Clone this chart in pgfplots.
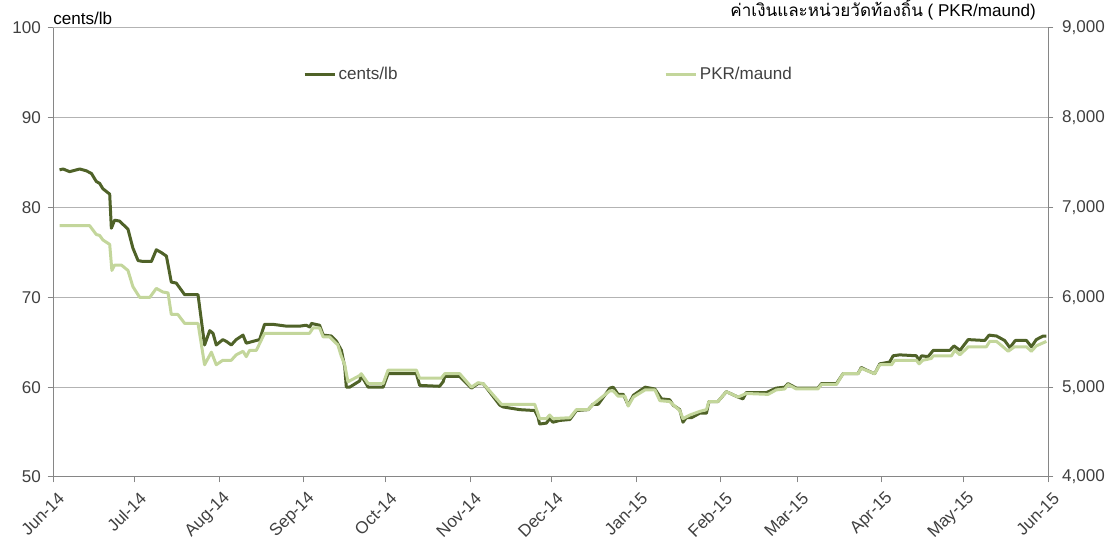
\documentclass[border=0pt]{standalone}
\usepackage{pgfplots}
\pgfplotsset{compat=1.18}
\usepackage{fontspec}
\setmainfont{Liberation Sans}
\newfontfamily\thaifont[Script=Thai]{Loma}
\definecolor{darkg}{HTML}{4F6228}
\definecolor{lightg}{HTML}{C3D69B}
\definecolor{axgray}{HTML}{868686}
\definecolor{gridgray}{HTML}{B3B3B3}
\definecolor{txt}{HTML}{404040}
\newcommand{\fs}{\fontsize{12.8}{15}\selectfont}
\begin{document}
\begin{tikzpicture}
\pgfplotsset{
  common/.style={
    scale only axis, width=746.25pt, height=336.75pt,
    xmin=0, xmax=365,
    xtick={0,30,61,92,122,153,183,214,245,273,304,334,365},
    tick align=outside, major tick length=4pt,
    tick label style={font=\fs, text=txt},
    /pgf/number format/assume math mode=true,
    axis line style={axgray, line width=0.75pt},
    every tick/.style={axgray, line width=0.75pt},
    legend image code/.code={\draw[##1] (0pt,0pt) -- (23pt,0pt);},
    legend style={draw=none, fill=none, inner sep=0pt, font=\fs, text=txt,
      anchor=west, nodes={inner sep=1.5pt}},
  }
}
\begin{axis}[common,
  ymin=50, ymax=100, ytick={50,60,70,80,90,100},
  axis y line*=left, axis x line*=bottom,
  yticklabel style={xshift=-1.5pt},
  xticklabels={Jun-14,Jul-14,Aug-14,Sep-14,Oct-14,Nov-14,Dec-14,Jan-15,Feb-15,Mar-15,Apr-15,May-15,Jun-15},
  xticklabel style={rotate=45, anchor=east, xshift=0.8pt, yshift=-11.4pt},
  ymajorgrids, grid style={gridgray, line width=0.75pt},
  legend style={at={(0.251,0.896)}},
]
\addplot[darkg, line width=2.25pt, line join=round] coordinates {
(2.4,84.2)(3.7,84.3)(6.1,84.0)(9.8,84.3)(12.2,84.1)(14.1,83.8)(15.9,82.9)(17.1,82.7)(18.3,82.1)(20.8,81.5)(21.4,77.7)(22.6,78.6)(24.4,78.5)(27.5,77.6)(29.3,75.5)(31.2,74.1)(33.0,74.0)(36.1,74.0)(37.9,75.3)(39.7,75.0)(41.6,74.6)(43.4,71.7)(45.2,71.6)(48.3,70.3)(53.2,70.3)(55.6,64.7)(57.5,66.3)(58.7,66.0)(59.9,64.7)(62.3,65.3)(63.6,65.1)(65.4,64.7)(67.2,65.3)(69.7,65.8)(70.9,64.9)(73.3,65.1)(75.8,65.3)(77.6,67.0)(80.7,67.0)(85.6,66.8)(90.5,66.8)(92.9,66.9)(94.2,66.7)(94.8,67.1)(97.8,66.9)(99.1,65.8)(102.1,65.7)(104.0,65.1)(105.8,64.1)(107.0,62.3)(107.6,60.0)(108.8,60.0)(112.5,60.7)(113.1,61.3)(115.6,60.0)(121.1,60.0)(122.9,61.5)(133.3,61.5)(134.5,60.2)(141.8,60.1)(143.1,60.6)(143.7,61.2)(149.2,61.2)(153.5,59.9)(155.9,60.4)(157.8,60.4)(159.6,59.7)(163.9,58.0)(165.1,57.8)(171.2,57.5)(176.7,57.4)(177.9,56.7)(178.5,55.9)(181.0,56.0)(182.2,56.5)(183.4,56.1)(185.9,56.3)(189.6,56.4)(192.0,57.4)(196.3,57.5)(198.1,58.1)(200.0,58.1)(204.3,59.9)(205.5,60.0)(207.3,59.2)(209.2,59.2)(211.0,58.0)(212.9,59.1)(217.2,60.0)(220.8,59.8)(223.2,58.7)(226.2,58.6)(227.5,58.0)(229.9,57.5)(231.1,56.1)(232.3,56.6)(234.2,56.6)(237.2,57.1)(239.7,57.1)(240.6,58.4)(243.9,58.4)(247.0,59.5)(251.3,58.9)(253.1,58.7)(254.3,59.4)(261.7,59.4)(265.3,59.9)(268.4,60.0)(269.6,60.4)(272.7,59.9)(280.6,59.9)(281.9,60.4)(287.4,60.4)(289.8,61.5)(295.3,61.5)(296.5,62.2)(298.4,61.9)(301.4,61.5)(303.3,62.6)(306.9,62.8)(308.2,63.5)(310.6,63.6)(316.7,63.5)(317.7,63.0)(318.6,63.5)(321.0,63.4)(322.9,64.1)(329.0,64.1)(330.5,64.6)(332.7,64.1)(335.7,65.3)(341.8,65.2)(343.4,65.8)(346.1,65.7)(349.1,65.2)(351.0,64.4)(353.0,65.2)(357.1,65.2)(358.9,64.5)(360.7,65.3)(363.2,65.7)(364.4,65.7)
};
\addlegendentry{cents/lb}
\coordinate (BL) at (rel axis cs:0,0);
\coordinate (TL) at (rel axis cs:0,1);
\coordinate (TR) at (rel axis cs:1,1);
\end{axis}
\begin{axis}[common,
  ymin=4000, ymax=9000, ytick={4000,5000,6000,7000,8000,9000},
  axis y line*=right, axis x line=none,
  yticklabel style={xshift=3pt},
  /pgf/number format/.cd, 1000 sep={,}, /pgfplots/.cd,
  legend style={at={(0.614,0.896)}},
]
\addplot[lightg, line width=2.25pt, line join=round] coordinates {
(2.4,6800)(13.4,6800)(15.9,6700)(17.1,6690)(18.3,6640)(20.8,6590)(21.6,6300)(22.6,6360)(25.1,6360)(27.5,6300)(29.3,6120)(31.8,6000)(35.5,6000)(37.9,6100)(40.3,6060)(42.2,6050)(43.4,5810)(45.8,5810)(48.3,5710)(53.2,5710)(55.6,5250)(58.1,5390)(59.9,5250)(62.3,5300)(65.4,5300)(67.2,5360)(69.7,5400)(70.9,5340)(72.1,5410)(74.6,5410)(77.6,5600)(94.1,5600)(95.4,5660)(97.8,5660)(99.1,5560)(101.5,5560)(104.5,5470)(105.7,5350)(107.0,5250)(108.2,5060)(112.5,5130)(113.1,5150)(115.6,5040)(121.1,5040)(122.9,5190)(133.3,5190)(134.5,5100)(142.4,5100)(143.7,5150)(149.2,5150)(153.5,5000)(155.9,5050)(157.8,5040)(164.5,4810)(176.7,4810)(178.5,4650)(181.0,4650)(182.2,4690)(183.4,4650)(189.6,4660)(192.0,4750)(196.3,4750)(198.1,4810)(204.3,4960)(205.5,4960)(207.3,4900)(209.8,4900)(211.0,4790)(212.9,4890)(217.2,4970)(220.8,4970)(222.6,4850)(226.2,4840)(229.9,4740)(231.1,4650)(233.6,4690)(237.2,4730)(239.7,4750)(240.6,4840)(243.9,4840)(247.0,4950)(251.3,4890)(254.3,4930)(262.3,4920)(265.3,4970)(268.4,4980)(269.6,5030)(272.7,4980)(280.6,4980)(281.9,5030)(287.4,5030)(289.8,5150)(295.3,5150)(296.5,5210)(301.4,5150)(303.3,5250)(307.6,5250)(308.8,5300)(316.7,5300)(317.7,5260)(319.1,5300)(322.2,5320)(322.9,5350)(329.6,5350)(330.8,5410)(332.7,5360)(335.7,5450)(342.4,5450)(343.6,5510)(346.1,5510)(348.5,5450)(350.4,5400)(352.7,5450)(357.1,5450)(358.9,5400)(360.7,5460)(364.4,5510)
};
\addlegendentry{PKR/maund}
\end{axis}
\node[anchor=base west, inner sep=0pt, font=\fs, text=black] at ([yshift=2.25pt]TL) {cents/lb};
\node[anchor=base east, inner sep=0pt, font=\fs, text=black] at ([xshift=-9pt,yshift=8.25pt]TR) {{\thaifont ค่าเงินและหน่วยวัดท้องถิ้น} ( PKR/maund)};
\pgfresetboundingbox
\useasboundingbox ([shift={(-39.75pt,-50.25pt)}]BL) rectangle ([shift={(51pt,21pt)}]TR);
\end{tikzpicture}
\end{document}
